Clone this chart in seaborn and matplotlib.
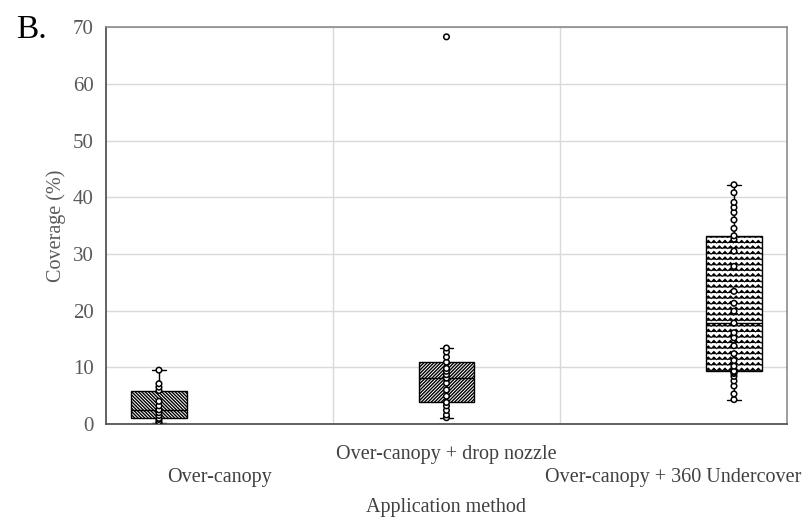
import warnings
import numpy as np
import pandas as pd
import matplotlib
matplotlib.use("Agg")
import matplotlib.pyplot as plt
from matplotlib import hatch as mhatch
from matplotlib.path import Path
import seaborn as sns

warnings.filterwarnings("ignore")

# Spray coverage (%) measured per sample for each application method
methods = ["Over-canopy", "Over-canopy + drop nozzle", "Over-canopy + 360 Undercover"]
over_canopy = [0.1, 0.4, 0.8, 1.0, 1.5, 2.0, 2.5, 3.2, 4.0, 5.9, 6.5, 7.1, 9.5]
drop_nozzle = [1.1, 1.6, 2.4, 3.2, 3.8, 4.9, 6.0, 7.2, 8.1, 8.7, 9.3, 9.8,
               10.9, 11.8, 12.7, 13.4, 68.3]
undercover = [4.3, 5.3, 6.7, 7.6, 8.4, 8.9, 9.1, 9.3, 10.2, 11.2, 12.4, 13.8,
              15.2, 16.1, 17.8, 19.9, 21.3, 23.4, 27.8, 30.5, 32.6, 33.2,
              34.5, 36.0, 37.3, 38.2, 39.1, 40.8, 42.2]
tick_labels = ["\nOver-canopy", "Over-canopy + drop nozzle", "\nOver-canopy + 360 Undercover"]
y_ticks = [0, 10, 20, 30, 40, 50, 60, 70]

df = pd.DataFrame({
    "method": [methods[0]] * len(over_canopy) + [methods[1]] * len(drop_nozzle)
              + [methods[2]] * len(undercover),
    "coverage": over_canopy + drop_nozzle + undercover,
})


class ZigZagHatch(mhatch.HatchPatternBase):
    """Rows of horizontal zigzags, selected with the 'z' hatch character."""

    def __init__(self, hatch, density):
        self.num_rows = int(hatch.count("z") * density)
        self.num_teeth = self.num_rows
        self.num_vertices = self.num_rows * (2 * self.num_teeth + 1)

    def set_vertices_and_codes(self, vertices, codes):
        n_pts = 2 * self.num_teeth + 1
        xs = np.linspace(0.0, 1.0, n_pts)
        amp = 0.5 / self.num_rows
        for r in range(self.num_rows):
            y0 = r / self.num_rows + 0.25 / self.num_rows
            seg = slice(r * n_pts, (r + 1) * n_pts)
            vertices[seg, 0] = xs
            vertices[seg, 1] = y0 + amp * (np.arange(n_pts) % 2)
            codes[seg] = Path.LINETO
            codes[r * n_pts] = Path.MOVETO


mhatch._hatch_types.append(ZigZagHatch)

sns.set_theme(style="white")
plt.rcParams["font.family"] = ["Liberation Serif", "DejaVu Serif"]
plt.rcParams["hatch.linewidth"] = 1.0
plt.rcParams["hatch.color"] = "black"

fig = plt.figure(figsize=(8.03, 5.18), dpi=100)
ax = fig.add_axes([0.132, 0.1815, 0.848, 0.766])

white = {m: "white" for m in methods}
sns.boxplot(data=df, x="method", y="coverage", hue="method", order=methods,
            hue_order=methods, dodge=True, gap=0.08, palette=white,
            linecolor="black", linewidth=1.0, showfliers=False,
            legend=False, capwidths=0.06, ax=ax)
sns.stripplot(data=df, x="method", y="coverage", hue="method", order=methods,
              hue_order=methods, dodge=True, jitter=False, palette=white,
              edgecolor="black", linewidth=1.1, size=4, legend=False,
              zorder=5, ax=ax)

hatches = ["\\" * 10, "/" * 10, "zzz"]
hatch_widths = [1.0, 1.0, 0.7]
for patch, h, lw in zip(ax.patches, hatches, hatch_widths):
    patch.set_hatch(h)
    if hasattr(patch, "set_hatch_linewidth"):
        patch.set_hatch_linewidth(lw)

ax.set_ylim(0, 70)
ax.set_xlim(-0.5, 2.5)
ax.set_yticks(y_ticks)
ax.set_yticklabels([str(v) for v in y_ticks], color="#595959", fontsize=15)
ax.set_xticks([0, 1, 2])
ax.set_xticklabels(tick_labels, color="#404040", fontsize=14.5, va="top",
                   linespacing=1.3)
ax.set_xticks([0.5, 1.5], minor=True)
ax.tick_params(axis="y", length=0, pad=9)
ax.tick_params(axis="x", which="both", length=0, pad=15)

ax.grid(axis="y", color="#d9d9d9", linewidth=1.0)
ax.grid(axis="x", which="minor", color="#d9d9d9", linewidth=1.0)
ax.set_axisbelow(True)

for side in ["top", "right"]:
    ax.spines[side].set_color("#8c8c8c")
    ax.spines[side].set_linewidth(1.2)
for side in ["left", "bottom"]:
    ax.spines[side].set_color("#555555")
    ax.spines[side].set_linewidth(1.3)

ax.set_ylabel("Coverage (%)", fontsize=14.5, color="#595959", labelpad=5)
ax.set_xlabel("Application method", fontsize=14.5, color="#404040", labelpad=8)

fig.text(0.02, 0.943, "B.", fontsize=24, color="black", va="center")

fig.savefig("out.png", dpi=100)
